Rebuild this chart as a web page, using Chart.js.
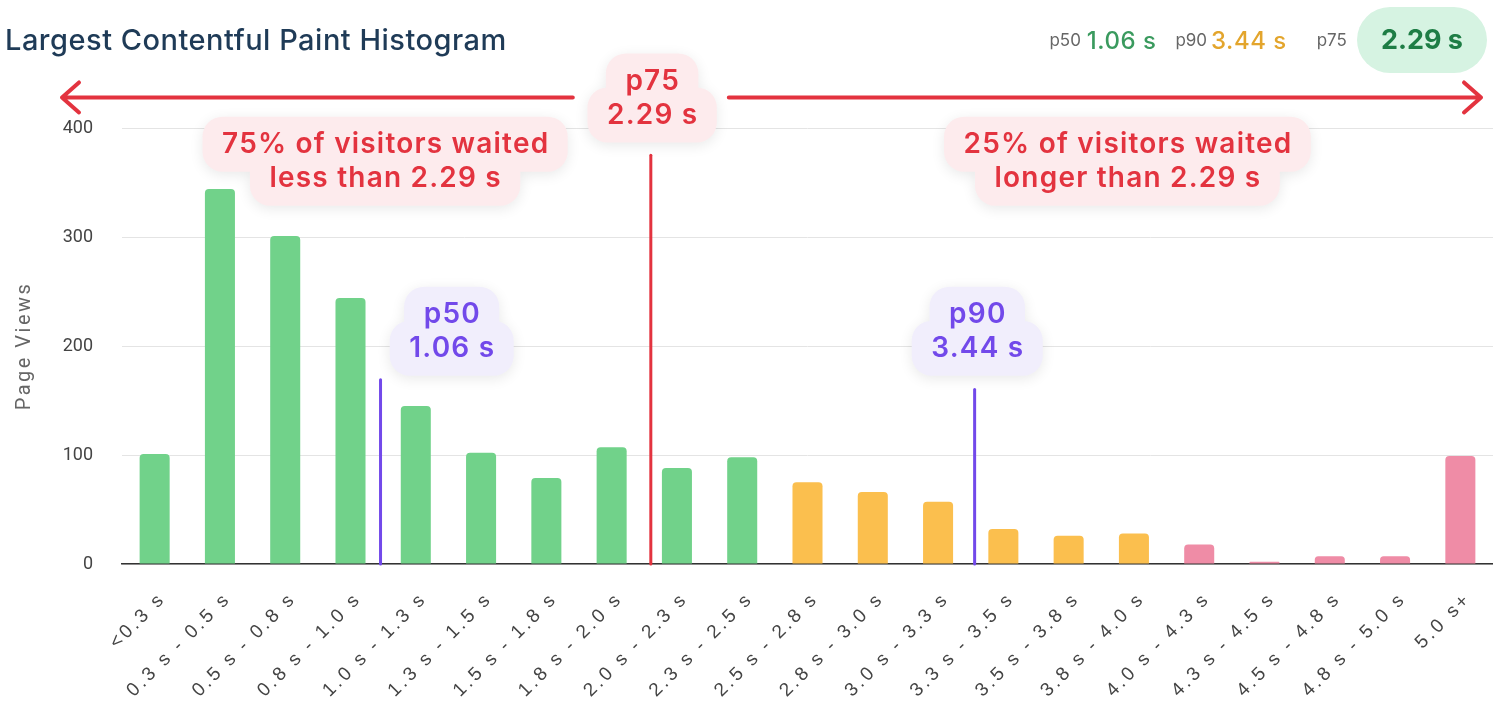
<!DOCTYPE html>
<html>
<head>
<meta charset="utf-8">
<script src="https://cdn.jsdelivr.net/npm/chart.js@4"></script>
<style>
  body { margin: 0; background: #fff; font-family: Inter, Roboto, sans-serif; }
  #wrap { position: relative; width: 1493px; height: 706px; }
  #title { position: absolute; left: 5px; top: 23px; font-size: 29px; letter-spacing: 0.5px; font-weight: 500; color: #1f3b57; line-height: 34px; }
  #stats { position: absolute; right: 6px; top: 7px; height: 66px; display: flex; align-items: center; white-space: nowrap; }
  .k { font-size: 17px; color: #666; }
  .v { font-size: 24px; letter-spacing: 0.5px; font-weight: 500; margin-left: 6px; }
  .pill { margin-left: 10px; height: 66px; line-height: 66px; padding: 0 24px; border-radius: 33px; background: #d6f3e2; color: #1e7d45; font-size: 27px; font-weight: 700; }
  canvas { position: absolute; left: 0; top: 0; }
</style>
</head>
<body>
<div id="wrap">
  <canvas id="chart"></canvas>
  <div id="title">Largest Contentful Paint Histogram</div>
  <div id="stats">
    <span class="k">p50</span><span class="v" style="color:#3a9a5e">1.06 s</span>
    <span class="k" style="margin-left:19px">p90</span><span class="v" style="color:#e3a52c;margin-left:4px">3.44 s</span>
    <span class="k" style="margin-left:30px">p75</span><span class="pill">2.29 s</span>
  </div>
</div>
<script>
const bins = ['<0.3 s', '0.3 s - 0.5 s', '0.5 s - 0.8 s', '0.8 s - 1.0 s', '1.0 s - 1.3 s', '1.3 s - 1.5 s',
  '1.5 s - 1.8 s', '1.8 s - 2.0 s', '2.0 s - 2.3 s', '2.3 s - 2.5 s', '2.5 s - 2.8 s', '2.8 s - 3.0 s',
  '3.0 s - 3.3 s', '3.3 s - 3.5 s', '3.5 s - 3.8 s', '3.8 s - 4.0 s', '4.0 s - 4.3 s', '4.3 s - 4.5 s',
  '4.5 s - 4.8 s', '4.8 s - 5.0 s', '5.0 s+']
const pageViews = [101, 344, 301, 244, 145, 102, 79, 107, 88, 98, 75, 66, 57, 32, 26, 28, 18, 2, 7, 7, 99]
const ratings = ['good', 'good', 'good', 'good', 'good', 'good', 'good', 'good', 'good', 'good',
  'ni', 'ni', 'ni', 'ni', 'ni', 'ni', 'poor', 'poor', 'poor', 'poor', 'poor']
const yTicks = [0, 100, 200, 300, 400]

// percentile markers: position as fractional bin index, line top in page views
const markers = [
  { name: 'p50', text: '1.06 s', at: 3.46, top: 169, labelAt: 4.55, labelY: 214, kind: 'purple' },
  { name: 'p90', text: '3.44 s', at: 12.56, top: 160, labelAt: 12.6, labelY: 214, kind: 'purple' },
  { name: 'p75', text: '2.29 s', at: 7.6, top: 375, labelAt: 7.62, labelY: 428, kind: 'red' }
]
const notes = [
  { lines: ['75% of visitors waited', 'less than 2.29 s'], at: 3.53, y: 370 },
  { lines: ['25% of visitors waited', 'longer than 2.29 s'], at: 14.9, y: 370 }
]

const barColors = { good: '#71d28a', ni: '#fbbf4e', poor: '#ef8ca6' }
const tone = {
  red: { fg: '#e3333f', bg: '#fdebed' },
  purple: { fg: '#7249ea', bg: '#f1eefc' }
}

// each line gets its own rounded background, merged into one shape
function bubble(ctx, cx, cy, lines, t) {
  ctx.save()
  ctx.font = '600 28px Inter'
  ctx.letterSpacing = '1.2px'
  const lh = 34
  const rows = lines.map((l, i) => ({ text: l, w: ctx.measureText(l).width, y: cy - (lines.length - 1) * lh / 2 + i * lh }))
  ctx.shadowColor = 'rgba(0,0,0,0.09)'
  ctx.shadowBlur = 14
  ctx.shadowOffsetY = 3
  ctx.fillStyle = t.bg
  ctx.beginPath()
  rows.forEach(r => ctx.roundRect(cx - r.w / 2 - 19, r.y - 27, r.w + 38, 55, 20))
  ctx.fill()
  ctx.shadowColor = 'transparent'
  ctx.fillStyle = t.fg
  ctx.textAlign = 'center'
  ctx.textBaseline = 'middle'
  rows.forEach(r => ctx.fillText(r.text, cx + 0.6, r.y + 1))
  ctx.restore()
}

function arrow(ctx, x1, x2, y, dir) {
  ctx.beginPath()
  ctx.moveTo(x1, y)
  ctx.lineTo(x2, y)
  const tip = dir < 0 ? x1 : x2
  ctx.moveTo(tip - dir * 17, y - 15)
  ctx.lineTo(tip, y)
  ctx.lineTo(tip - dir * 17, y + 15)
  ctx.stroke()
}

const annotations = {
  id: 'annotations',
  afterDatasetsDraw(chart) {
    const { ctx, scales: { x, y }, chartArea } = chart
    ctx.save()
    ctx.lineCap = 'round'
    ctx.lineJoin = 'round'
    markers.forEach(m => {
      ctx.strokeStyle = tone[m.kind].fg
      ctx.lineWidth = 3
      const px = x.getPixelForValue(m.at)
      ctx.beginPath()
      ctx.moveTo(px, y.getPixelForValue(0))
      ctx.lineTo(px, y.getPixelForValue(m.top))
      ctx.stroke()
    })
    const p75 = markers.find(m => m.name === 'p75')
    const ax = x.getPixelForValue(p75.at)
    const ay = y.getPixelForValue(p75.labelY)
    ctx.strokeStyle = tone.red.fg
    ctx.lineWidth = 4
    arrow(ctx, chartArea.left - 60, ax - 78, ay, -1)
    arrow(ctx, ax + 78, chartArea.right - 12, ay, 1)
    ctx.restore()

    markers.forEach(m => bubble(ctx, x.getPixelForValue(m.labelAt), y.getPixelForValue(m.labelY), [m.name, m.text], tone[m.kind]))
    notes.forEach(n => bubble(ctx, x.getPixelForValue(n.at), y.getPixelForValue(n.y), n.lines, tone.red))
  }
}

// wider tracking on the bin labels and the axis title
const tracking = {
  id: 'tracking',
  beforeDraw(chart) {
    const ctx = chart.ctx
    const wrap = (sc, fn, sp) => {
      const orig = sc[fn].bind(sc)
      sc[fn] = function (area) {
        ctx.save()
        ctx.letterSpacing = sp
        orig(area)
        ctx.restore()
      }
    }
    if (!chart.scales.x._tracked) {
      wrap(chart.scales.x, 'drawLabels', '3px')
      wrap(chart.scales.y, 'drawTitle', '2.5px')
      chart.scales.x._tracked = true
    }
  }
}

const canvas = document.getElementById('chart')
canvas.width = 1493
canvas.height = 706

new Chart(canvas, {
  type: 'bar',
  data: {
    labels: bins,
    datasets: [{
      data: pageViews,
      backgroundColor: ratings.map(r => barColors[r]),
      borderRadius: { topLeft: 4, topRight: 4 },
      borderSkipped: 'bottom',
      categoryPercentage: 1,
      barPercentage: 0.46
    }]
  },
  options: {
    responsive: false,
    animation: false,
    layout: { padding: { top: 128, right: 0, left: 0, bottom: 0 } },
    plugins: { legend: { display: false }, tooltip: { enabled: false } },
    scales: {
      x: {
        grid: { display: false, drawTicks: false },
        border: { display: true, color: '#333', width: 1.5 },
        ticks: {
          autoSkip: false, minRotation: 45, maxRotation: 45, padding: 24, labelOffset: 8,
          color: '#444', font: { family: 'Liberation Sans', size: 19 }
        },
        afterFit(s) { s.height = 142; s.paddingLeft = 0; s.paddingRight = 0 }
      },
      y: {
        min: 0, max: 400,
        afterBuildTicks(s) { s.ticks = yTicks.map(v => ({ value: v })) },
        grid: { color: '#e4e4e4', drawTicks: false },
        border: { display: false },
        ticks: { padding: 29, color: '#444', font: { family: 'Roboto', size: 18 } },
        title: {
          display: true, text: 'Page Views', color: '#666',
          font: { family: 'Roboto', size: 20 }, padding: { top: 13, bottom: 0 }
        },
        afterFit(s) { s.width = 122 }
      }
    }
  },
  plugins: [annotations, tracking]
})
</script>
</body>
</html>
